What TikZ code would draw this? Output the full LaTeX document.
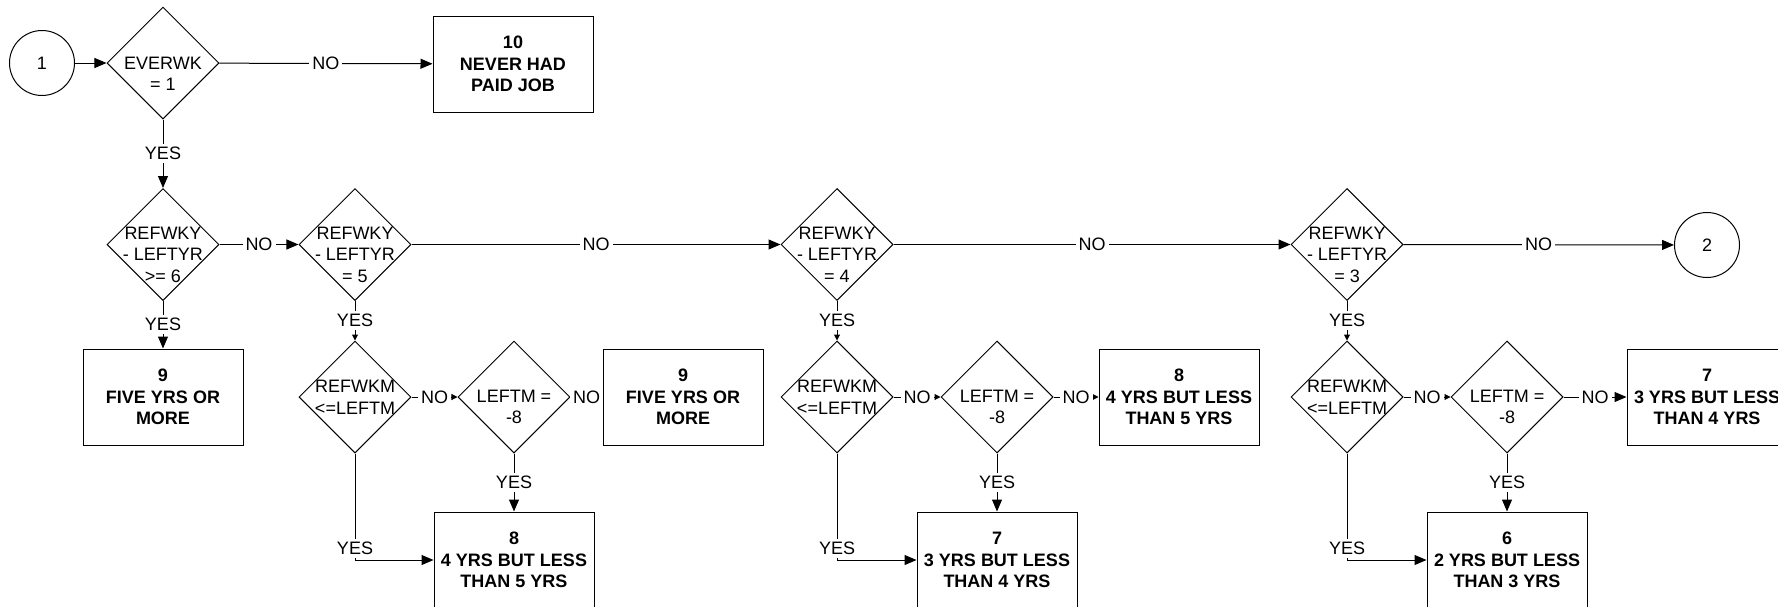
\documentclass[tikz,border=0pt]{standalone}
\usepackage{fontspec}
\setmainfont{Liberation Sans}
\usetikzlibrary{arrows.meta, shapes.geometric}

\begin{document}
\begin{tikzpicture}[
  x=0.5pt, y=-0.5pt, line width=0.5pt,
  every node/.style={font=\fontsize{9}{10.8}\selectfont},
  decision/.style={diamond, draw, minimum width=56pt, minimum height=56pt, inner sep=0pt},
  dtext/.style={align=center, anchor=center, inner sep=0pt, yshift=-5pt},
  dtextc/.style={dtext, yshift=5pt},
  outcome/.style={rectangle, draw, minimum width=80pt, minimum height=48pt, inner sep=0pt, align=center, font=\fontsize{9}{10.8}\selectfont\bfseries},
  term/.style={circle, draw, minimum size=32.5pt, inner sep=0pt},
  lbl/.style={fill=white, inner sep=1.5pt},
  arr/.style={-{Triangle[length=6pt,width=5pt]}},
  arrs/.style={-{Triangle[length=3pt,width=3pt]}}
]
\useasboundingbox (0,0) rectangle (1778,606);

% Entry
\node[term] (c1) at (42,63) {1};
\node[decision, label={[dtext, yshift=-0.5pt]center:{EVERWK\\= 1}}] (everwk) at (163,63) {};
\node[outcome] (o10) at (513,64) {10\\NEVER HAD\\PAID JOB};

% Years row
\node[decision, label={[dtext]center:{REFWKY\\- LEFTYR\\>= 6}}] (q6) at (163,244.5) {};
\node[decision, label={[dtext]center:{REFWKY\\- LEFTYR\\= 5}}] (q5) at (355,244.5) {};
\node[decision, label={[dtext]center:{REFWKY\\- LEFTYR\\= 4}}] (q4) at (837,244.5) {};
\node[decision, label={[dtext]center:{REFWKY\\- LEFTYR\\= 3}}] (q3) at (1347,244.5) {};
\node[term] (c2) at (1707,245) {2};

% Five years or more
\node[outcome] (o9a) at (163,397) {9\\FIVE YRS OR\\MORE};

% Months check, 5 years
\node[decision, label={[dtextc]center:{REFWKM\\<=LEFTM}}] (m1) at (355,397) {};
\node[decision, label={[dtext]center:{LEFTM =\\-8}}] (l1) at (514,397) {};
\node[outcome] (o9b) at (683,397) {9\\FIVE YRS OR\\MORE};
\node[outcome] (o8a) at (514,560) {8\\4 YRS BUT LESS\\THAN 5 YRS};

% Months check, 4 years
\node[decision, label={[dtextc]center:{REFWKM\\<=LEFTM}}] (m2) at (837,397) {};
\node[decision, label={[dtext]center:{LEFTM =\\-8}}] (l2) at (997,397) {};
\node[outcome] (o8b) at (1179,397) {8\\4 YRS BUT LESS\\THAN 5 YRS};
\node[outcome] (o7a) at (997,560) {7\\3 YRS BUT LESS\\THAN 4 YRS};

% Months check, 3 years
\node[decision, label={[dtextc]center:{REFWKM\\<=LEFTM}}] (m3) at (1347,397) {};
\node[decision, label={[dtext]center:{LEFTM =\\-8}}] (l3) at (1507,397) {};
\node[outcome] (o7b) at (1707,397) {7\\3 YRS BUT LESS\\THAN 4 YRS};
\node[outcome] (o6) at (1507,560) {6\\2 YRS BUT LESS\\THAN 3 YRS};

% Edges
\draw[arr] (c1) -- (everwk);
\draw[arr] (everwk) -- node[lbl] {NO} (o10);
\draw[arr] (everwk) -- node[lbl] {YES} (q6);
\draw[arr] (q6) -- node[lbl] {NO} (q5);
\draw[arr] (q6) -- node[lbl] {YES} (o9a);
\draw[arr] (q5) -- node[lbl] {NO} (q4);
\draw[arr] (q4) -- node[lbl] {NO} (q3);
\draw[arr] (q3) -- node[lbl] {NO} (c2);

\draw[arrs] (q5) -- node[lbl] {YES} (m1);
\draw[arrs] (m1) -- node[lbl] {NO} (l1);
\draw (l1) -- node[lbl] {NO} (o9b);
\draw[arr] (l1) -- node[lbl] {YES} (o8a);
\draw[arr] (m1) |- node[lbl, above=1pt] {YES} (o8a);

\draw[arrs] (q4) -- node[lbl] {YES} (m2);
\draw[arrs] (m2) -- node[lbl] {NO} (l2);
\draw[arrs] (l2) -- node[lbl] {NO} (o8b);
\draw[arr] (l2) -- node[lbl] {YES} (o7a);
\draw[arr] (m2) |- node[lbl, above=1pt] {YES} (o7a);

\draw[arrs] (q3) -- node[lbl] {YES} (m3);
\draw[arrs] (m3) -- node[lbl] {NO} (l3);
\draw[arr] (l3) -- node[lbl] {NO} (o7b);
\draw[arr] (l3) -- node[lbl] {YES} (o6);
\draw[arr] (m3) |- node[lbl, above=1pt] {YES} (o6);

\end{tikzpicture}
\end{document}
